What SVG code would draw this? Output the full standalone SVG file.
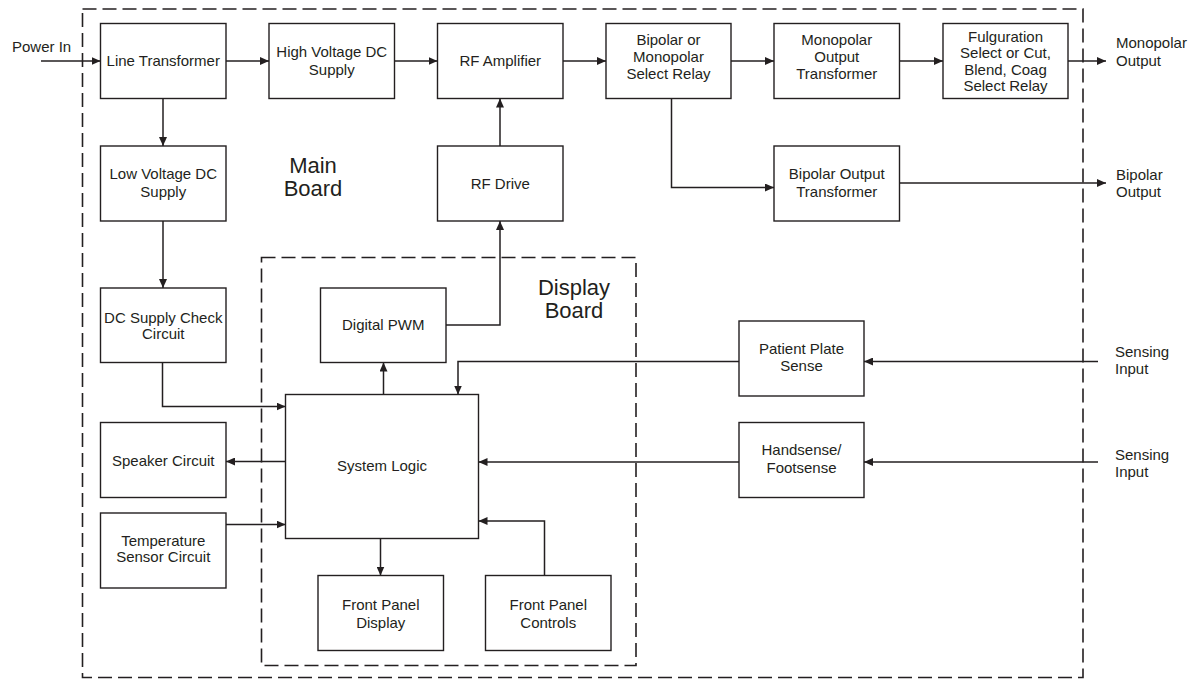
<svg xmlns="http://www.w3.org/2000/svg" width="1198" height="679" viewBox="0 0 1198 679">
  <style>
    .box { fill: #ffffff; stroke: #231f20; stroke-width: 1.4; }
    .frame { fill: none; stroke: #231f20; stroke-width: 1.6; stroke-dasharray: 14 6; }
    .wire { fill: none; stroke: #231f20; stroke-width: 1.5; }
    text { font-family: "Liberation Sans", Arial, sans-serif; font-size: 15px; fill: #231f20; text-anchor: middle; }
    .lbl { text-anchor: start; }
    .big { font-size: 22px; }
  </style>
  <defs>
    <marker id="arrow" viewBox="0 0 9 8" refX="9" refY="4" markerWidth="9" markerHeight="8" markerUnits="userSpaceOnUse" orient="auto">
      <path d="M0,0 L9,4 L0,8 z" fill="#231f20"/>
    </marker>
  </defs>
  <rect width="1198" height="679" fill="#ffffff"/>

  <!-- board outlines -->
  <g id="main-board">
    <rect class="frame" x="82.5" y="9" width="1000.5" height="668.5"/>
    <text class="big" x="313" y="172.5">Main</text>
    <text class="big" x="313" y="196">Board</text>
  </g>
  <g id="display-board">
    <rect class="frame" x="261.5" y="257.5" width="374.5" height="408"/>
    <text class="big" x="574" y="295">Display</text>
    <text class="big" x="574" y="318">Board</text>
  </g>

  <!-- connectors -->
  <g id="connectors" class="wire">
    <path d="M41,61 H100.5" marker-end="url(#arrow)"/>
    <path d="M226,61 H269" marker-end="url(#arrow)"/>
    <path d="M394.5,61 H437.5" marker-end="url(#arrow)"/>
    <path d="M563,61 H606" marker-end="url(#arrow)"/>
    <path d="M731,61 H774" marker-end="url(#arrow)"/>
    <path d="M899.5,61 H943" marker-end="url(#arrow)"/>
    <path d="M1068,61 H1106" marker-end="url(#arrow)"/>
    <path d="M163,98.5 V146" marker-end="url(#arrow)"/>
    <path d="M163,221 V288" marker-end="url(#arrow)"/>
    <path d="M500,146 V98.5" marker-end="url(#arrow)"/>
    <path d="M446,325 H500 V221" marker-end="url(#arrow)"/>
    <path d="M671.5,98.5 V187.5 H774" marker-end="url(#arrow)"/>
    <path d="M899.5,183 H1106" marker-end="url(#arrow)"/>
    <path d="M162.5,362.5 V406.5 H285.5" marker-end="url(#arrow)"/>
    <path d="M383.5,394.5 V362.5" marker-end="url(#arrow)"/>
    <path d="M285.5,461.5 H226" marker-end="url(#arrow)"/>
    <path d="M226,524.5 H285.5" marker-end="url(#arrow)"/>
    <path d="M380.5,538.5 V575.5" marker-end="url(#arrow)"/>
    <path d="M544.5,575.5 V521 H478.5" marker-end="url(#arrow)"/>
    <path d="M739,462 H478.5" marker-end="url(#arrow)"/>
    <path d="M739,361.5 H458 V394.5" marker-end="url(#arrow)"/>
    <path d="M1098,361.5 H864" marker-end="url(#arrow)"/>
    <path d="M1098,462 H864" marker-end="url(#arrow)"/>
  </g>

  <!-- external labels -->
  <g id="io-labels">
    <text class="lbl" x="12" y="52">Power In</text>
    <text class="lbl" x="1116" y="48">Monopolar</text>
    <text class="lbl" x="1116" y="65.5">Output</text>
    <text class="lbl" x="1116" y="180">Bipolar</text>
    <text class="lbl" x="1116" y="197">Output</text>
    <text class="lbl" x="1115" y="357">Sensing</text>
    <text class="lbl" x="1115" y="373.5">Input</text>
    <text class="lbl" x="1115" y="460">Sensing</text>
    <text class="lbl" x="1115" y="476.5">Input</text>
  </g>

  <!-- blocks -->
  <g id="line-transformer">
    <rect class="box" x="100.5" y="23.5" width="125.5" height="75"/>
    <text x="163.25" y="66">Line Transformer</text>
  </g>
  <g id="hv-dc-supply">
    <rect class="box" x="269" y="23.5" width="125.5" height="75"/>
    <text x="331.75" y="57.2">High Voltage DC</text>
    <text x="331.75" y="74.7">Supply</text>
  </g>
  <g id="rf-amplifier">
    <rect class="box" x="437.5" y="23.5" width="125.5" height="75"/>
    <text x="500.25" y="66">RF Amplifier</text>
  </g>
  <g id="select-relay">
    <rect class="box" x="606" y="23.5" width="125" height="75"/>
    <text x="668.5" y="45">Bipolar or</text>
    <text x="668.5" y="61.8">Monopolar</text>
    <text x="668.5" y="78.6">Select Relay</text>
  </g>
  <g id="monopolar-transformer">
    <rect class="box" x="774" y="23.5" width="125.5" height="75"/>
    <text x="836.75" y="45">Monopolar</text>
    <text x="836.75" y="61.8">Output</text>
    <text x="836.75" y="78.6">Transformer</text>
  </g>
  <g id="fulguration-relay">
    <rect class="box" x="943" y="23.5" width="125" height="75"/>
    <text x="1005.5" y="41.5">Fulguration</text>
    <text x="1005.5" y="58">Select or Cut,</text>
    <text x="1005.5" y="74.5">Blend, Coag</text>
    <text x="1005.5" y="91">Select Relay</text>
  </g>
  <g id="lv-dc-supply">
    <rect class="box" x="100.5" y="146" width="125.5" height="75"/>
    <text x="163.25" y="179.3">Low Voltage DC</text>
    <text x="163.25" y="196.6">Supply</text>
  </g>
  <g id="rf-drive">
    <rect class="box" x="437.5" y="146" width="125.5" height="75"/>
    <text x="500.25" y="189">RF Drive</text>
  </g>
  <g id="bipolar-transformer">
    <rect class="box" x="774" y="146" width="125.5" height="75"/>
    <text x="836.75" y="179.3">Bipolar Output</text>
    <text x="836.75" y="196.6">Transformer</text>
  </g>
  <g id="dc-supply-check">
    <rect class="box" x="100.5" y="288" width="125.5" height="74.5"/>
    <text x="163.25" y="322.5">DC Supply Check</text>
    <text x="163.25" y="339.3">Circuit</text>
  </g>
  <g id="digital-pwm">
    <rect class="box" x="320.5" y="288" width="125.5" height="74.5"/>
    <text x="383.25" y="329.8">Digital PWM</text>
  </g>
  <g id="system-logic">
    <rect class="box" x="285.5" y="394.5" width="193" height="144"/>
    <text x="382" y="471.3">System Logic</text>
  </g>
  <g id="speaker-circuit">
    <rect class="box" x="100.5" y="422.5" width="125.5" height="75"/>
    <text x="163.25" y="466.3">Speaker Circuit</text>
  </g>
  <g id="temperature-sensor">
    <rect class="box" x="100.5" y="513" width="125.5" height="75"/>
    <text x="163.25" y="545.5">Temperature</text>
    <text x="163.25" y="562.3">Sensor Circuit</text>
  </g>
  <g id="front-panel-display">
    <rect class="box" x="318" y="575.5" width="125.5" height="75"/>
    <text x="380.75" y="610.3">Front Panel</text>
    <text x="380.75" y="627.6">Display</text>
  </g>
  <g id="front-panel-controls">
    <rect class="box" x="485.5" y="575.5" width="125.5" height="75"/>
    <text x="548.25" y="610.3">Front Panel</text>
    <text x="548.25" y="627.6">Controls</text>
  </g>
  <g id="patient-plate-sense">
    <rect class="box" x="739" y="321" width="125" height="75"/>
    <text x="801.5" y="354.3">Patient Plate</text>
    <text x="801.5" y="371.3">Sense</text>
  </g>
  <g id="handsense-footsense">
    <rect class="box" x="739" y="422.5" width="125" height="75"/>
    <text x="801.5" y="455.3">Handsense/</text>
    <text x="801.5" y="472.8">Footsense</text>
  </g>
</svg>
